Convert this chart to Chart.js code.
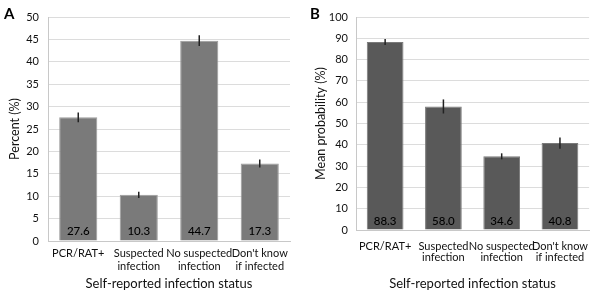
<!DOCTYPE html>
<html>
<head>
<meta charset="utf-8">
<script src="https://cdn.jsdelivr.net/npm/chart.js@4.4.0/dist/chart.umd.min.js"></script>
<style>
  html, body { margin: 0; padding: 0; background: #fff; }
  #wrap { position: relative; width: 600px; height: 293px; }
  .panel { position: absolute; top: 0; width: 300px; height: 293px; }
</style>
</head>
<body>
<div id="wrap">
  <div class="panel" style="left:0"><canvas id="chartA" width="300" height="293"></canvas></div>
  <div class="panel" style="left:300px"><canvas id="chartB" width="300" height="293"></canvas></div>
</div>
<script>
const categories = [
  'PCR/RAT+',
  ['Suspected', 'infection'],
  ['No suspected', 'infection'],
  ["Don't know", 'if infected']
];
const percentValues = [27.6, 10.3, 44.7, 17.3];
const percentErrors = [1.1, 0.7, 1.2, 0.9];
const probValues = [88.3, 58.0, 34.6, 40.8];
const probErrors = [1.4, 3.3, 1.4, 2.6];

const FONT = "Lato, 'Open Sans', sans-serif";
const TEXT = '#111';

// error bars + value labels inside the bars
const barExtras = {
  id: 'barExtras',
  afterDatasetsDraw(chart, args, opts) {
    const ctx = chart.ctx;
    const y = chart.scales.y;
    const meta = chart.getDatasetMeta(0);
    const vals = chart.data.datasets[0].data;
    ctx.save();
    meta.data.forEach((bar, i) => {
      const hi = y.getPixelForValue(vals[i] + opts.errors[i]);
      const lo = y.getPixelForValue(vals[i] - opts.errors[i]);
      ctx.strokeStyle = '#222';
      ctx.lineWidth = 1.5;
      ctx.beginPath();
      ctx.moveTo(bar.x, hi);
      ctx.lineTo(bar.x, lo);
      ctx.stroke();

      ctx.fillStyle = '#000';
      ctx.font = '500 11.5px ' + FONT;
      ctx.textAlign = 'center';
      ctx.textBaseline = 'middle';
      ctx.fillText(vals[i].toFixed(1), bar.x, y.getPixelForValue(0) - opts.labelOffset);
    });
    ctx.font = 'bold 15px ' + FONT;
    ctx.fillStyle = '#000';
    ctx.textAlign = 'left';
    ctx.textBaseline = 'middle';
    ctx.fillText(opts.letter, opts.letterX, 14);
    ctx.restore();
  }
};

function makeChart(id, cfg) {
  return new Chart(document.getElementById(id), {
    type: 'bar',
    data: {
      labels: categories,
      datasets: [{
        data: cfg.values,
        backgroundColor: cfg.color,
        borderColor: cfg.border,
        borderWidth: 1,
        barPercentage: 0.63,
        categoryPercentage: 1
      }]
    },
    options: {
      responsive: false,
      animation: false,
      layout: { padding: { top: 17, right: cfg.right, left: 0, bottom: 0 } },
      plugins: {
        legend: { display: false },
        tooltip: { enabled: false },
        barExtras: {
          errors: cfg.errors, letter: cfg.letter, letterX: cfg.letterX,
          labelOffset: cfg.labelOffset
        }
      },
      scales: {
        x: {
          grid: { display: false, drawTicks: false },
          border: { color: '#c8c8c8' },
          afterFit: s => { s.height = cfg.xHeight; },
          ticks: {
            color: TEXT, padding: cfg.xPad, maxRotation: 0, autoSkip: false,
            font: { family: FONT, size: cfg.xFont, lineHeight: cfg.xLine }
          },
          title: {
            display: true, text: 'Self-reported infection status', color: TEXT,
            font: { family: FONT, size: 13 }, padding: { top: 0, bottom: 1 }
          }
        },
        y: {
          min: 0, max: cfg.max,
          afterFit: s => { s.width = cfg.yWidth; },
          grid: { color: '#dcdcdc', drawTicks: false },
          border: { color: '#c8c8c8' },
          ticks: {
            stepSize: cfg.step, color: TEXT, padding: cfg.yPad,
            font: { family: FONT, size: 11 }
          },
          title: {
            display: true, text: cfg.yTitle, color: TEXT,
            font: { family: FONT, size: 12.5 }, padding: { top: cfg.yTitlePad, bottom: 0 }
          }
        }
      }
    },
    plugins: [barExtras]
  });
}

makeChart('chartA', {
  values: percentValues, errors: percentErrors, color: '#7a7a7a', border: '#9c9c9c',
  max: 50, step: 5, yTitle: 'Percent (%)', letter: 'A', letterX: 4,
  right: 10, xHeight: 52, yWidth: 48, xPad: 6, xFont: 11, xLine: 1.18,
  yPad: 9, yTitlePad: 7, labelOffset: 10
});

makeChart('chartB', {
  values: probValues, errors: probErrors, color: '#595959', border: '#7a7a7a',
  max: 100, step: 10, yTitle: 'Mean probability (%)', letter: 'B', letterX: 10,
  right: 8, xHeight: 63, yWidth: 56, xPad: 11, xFont: 11, xLine: 1.0,
  yPad: 8, yTitlePad: 13, labelOffset: 9
});
</script>
</body>
</html>
